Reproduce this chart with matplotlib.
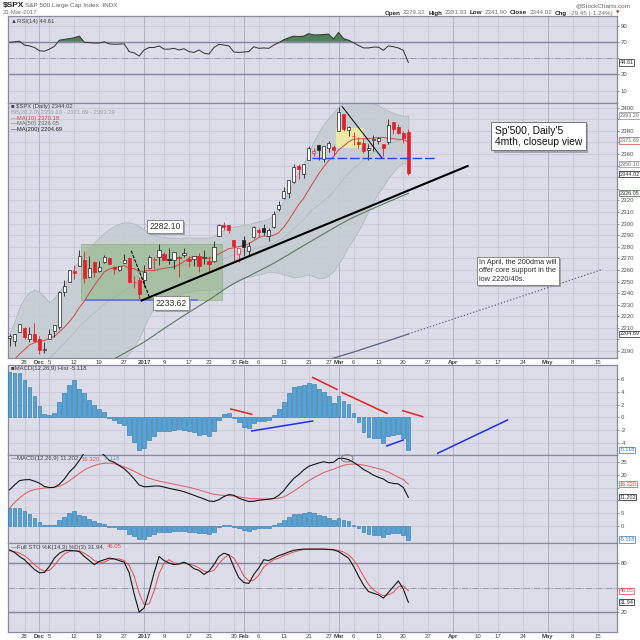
import numpy as np
import pandas as pd
import matplotlib
matplotlib.use('Agg')
import matplotlib.pyplot as plt
from matplotlib.patches import Rectangle, Ellipse
import matplotlib.transforms as mtrans
import matplotlib.patheffects as pe

plt.rcParams['font.family'] = ['Liberation Sans', 'DejaVu Sans']

# ---------------- calendar (trading days) ----------------
holidays = ['2016-11-24', '2016-12-26', '2017-01-02', '2017-01-16', '2017-02-20', '2017-04-14']
calendar = pd.bdate_range('2016-11-22', '2017-05-19', freq='C', holidays=holidays)
origin = list(calendar).index(pd.Timestamp('2016-11-28'))

def pos(d):
    return list(calendar).index(pd.Timestamp(d)) - origin

# ---------------- price data (Nov 22 2016 .. Mar 21 2017) ----------------
prev_close0 = 2198.18
opens = [2201.56, 2198.55, 2206.27,
         2210.21, 2200.76, 2204.97, 2200.17, 2191.12,
         2200.65, 2207.26, 2210.72, 2241.13, 2249.73,
         2258.83, 2263.32, 2268.35, 2253.77, 2266.81,
         2259.24, 2266.50, 2270.54, 2262.93, 2260.25,
         2266.23, 2270.23, 2249.50, 2251.61,
         2251.57, 2261.60, 2268.18, 2271.14,
         2273.59, 2269.72, 2268.60, 2271.14, 2272.74,
         2269.14, 2269.14, 2271.90, 2269.96,
         2267.78, 2267.88, 2288.88, 2298.63, 2299.02,
         2286.01, 2274.02, 2285.59, 2276.69, 2288.54,
         2294.28, 2295.87, 2289.55, 2296.70, 2312.27,
         2321.72, 2326.12, 2335.58, 2349.64, 2343.01,
         2354.91, 2361.11, 2367.50, 2355.73,
         2365.23, 2366.08, 2380.13, 2394.75, 2380.92,
         2375.23, 2370.74, 2369.81, 2363.49, 2372.52,
         2371.56, 2368.55, 2370.34, 2387.71, 2383.71,
         2378.24, 2379.32]
highs = [2204.80, 2204.72, 2213.35,
         2211.14, 2210.46, 2214.10, 2202.60, 2197.95,
         2209.42, 2212.78, 2241.63, 2251.69, 2259.80,
         2264.03, 2277.53, 2276.20, 2272.12, 2268.05,
         2267.47, 2272.56, 2271.23, 2263.18, 2263.79,
         2273.82, 2271.31, 2254.51, 2253.58,
         2263.88, 2272.82, 2271.50, 2282.10,
         2275.49, 2279.27, 2275.32, 2271.78, 2278.68,
         2272.08, 2272.01, 2274.33, 2276.96,
         2271.78, 2284.63, 2299.55, 2300.99, 2299.02,
         2286.01, 2279.09, 2289.14, 2283.97, 2298.31,
         2296.18, 2299.40, 2295.91, 2311.08, 2319.23,
         2331.58, 2337.58, 2351.30, 2351.31, 2351.16,
         2366.71, 2365.13, 2368.26, 2367.34,
         2371.54, 2367.79, 2400.98, 2394.75, 2383.89,
         2378.80, 2375.12, 2373.09, 2369.08, 2376.86,
         2374.42, 2368.55, 2390.01, 2388.10, 2385.71,
         2379.55, 2381.93]
lows = [2194.51, 2194.51, 2206.27,
        2200.36, 2198.15, 2198.81, 2187.44, 2188.37,
        2199.97, 2202.21, 2208.93, 2237.57, 2249.23,
        2252.37, 2263.32, 2248.44, 2253.77, 2254.24,
        2258.21, 2266.14, 2265.15, 2256.08, 2258.84,
        2266.15, 2249.11, 2244.56, 2233.62,
        2245.13, 2261.60, 2260.45, 2264.06,
        2268.90, 2265.27, 2260.83, 2254.25, 2271.51,
        2262.81, 2263.35, 2258.41, 2265.01,
        2257.02, 2266.68, 2288.88, 2294.08, 2291.62,
        2268.04, 2267.21, 2272.44, 2271.65, 2287.88,
        2288.57, 2290.16, 2285.38, 2296.61, 2311.10,
        2321.42, 2322.17, 2334.81, 2338.87, 2339.58,
        2354.91, 2358.34, 2355.09, 2352.87,
        2361.87, 2358.96, 2380.13, 2380.17, 2375.39,
        2367.98, 2365.51, 2361.01, 2354.54, 2363.04,
        2368.52, 2358.18, 2368.94, 2377.18, 2377.64,
        2369.66, 2341.90]
closes = [2202.94, 2204.72, 2213.35,
          2201.72, 2204.66, 2198.81, 2191.08, 2191.95,
          2204.71, 2212.23, 2241.35, 2246.19, 2259.53,
          2256.96, 2271.72, 2253.28, 2262.03, 2258.07,
          2262.53, 2270.76, 2265.18, 2260.96, 2263.79,
          2268.88, 2249.92, 2249.26, 2238.83,
          2257.83, 2270.75, 2269.00, 2276.98,
          2268.90, 2268.90, 2275.32, 2270.44, 2274.64,
          2267.89, 2271.89, 2263.69, 2271.31,
          2265.20, 2280.07, 2298.37, 2296.68, 2294.69,
          2280.90, 2278.87, 2279.55, 2280.85, 2297.42,
          2292.56, 2293.08, 2294.67, 2307.87, 2316.10,
          2328.25, 2337.58, 2349.25, 2347.22, 2351.16,
          2365.38, 2362.82, 2363.81, 2367.34,
          2369.75, 2363.64, 2395.96, 2381.92, 2383.12,
          2375.31, 2368.39, 2362.98, 2364.87, 2372.60,
          2373.47, 2365.45, 2385.26, 2381.38, 2378.25,
          2373.47, 2344.02]

ma10 = [2178.7, 2182.8, 2187.4, 2191.2, 2195.2, 2197.1, 2198.5, 2198.9, 2201.2, 2202.6,
        2206.5, 2210.6, 2215.2, 2220.8, 2227.5, 2232.9, 2240.0, 2246.6, 2252.4, 2258.3,
        2260.6, 2262.1, 2262.5, 2263.7, 2261.5, 2261.1, 2258.8, 2258.8, 2259.6, 2259.4,
        2260.6, 2261.4, 2261.9, 2262.6, 2264.6, 2267.2, 2270.1, 2271.5, 2270.8, 2271.0,
        2269.8, 2270.9, 2273.9, 2276.0, 2278.4, 2279.1, 2280.2, 2280.9, 2282.6, 2285.3,
        2288.0, 2289.3, 2288.9, 2290.0, 2292.2, 2296.9, 2302.8, 2309.8, 2316.4, 2321.8,
        2329.1, 2336.0, 2342.9, 2348.9, 2354.3, 2357.8, 2363.6, 2366.9, 2370.5, 2372.9,
        2373.2, 2373.2, 2373.3, 2373.9, 2374.2, 2374.4, 2373.4, 2373.3, 2372.8, 2372.6,
        2370.18]
bb_mid = [2158.0, 2161.0, 2165.0, 2168.0, 2172.0, 2175.0, 2178.0, 2181.0, 2184.0, 2187.5,
          2192.6, 2196.7, 2201.3, 2206.0, 2211.3, 2215.0, 2219.2, 2222.8, 2226.8, 2230.4,
          2233.6, 2236.4, 2238.9, 2242.2, 2244.5, 2247.0, 2249.4, 2252.7, 2256.0, 2258.9,
          2260.6, 2261.8, 2262.2, 2263.2, 2263.1, 2264.2, 2264.4, 2265.1, 2265.2, 2265.2,
          2265.2, 2266.2, 2267.9, 2269.3, 2271.5, 2273.1, 2275.1, 2276.2, 2276.7, 2278.1,
          2278.9, 2280.1, 2281.4, 2283.0, 2285.3, 2288.0, 2291.5, 2295.3, 2299.5, 2303.5,
          2308.5, 2312.7, 2315.9, 2319.5, 2323.2, 2327.4, 2333.2, 2338.3, 2343.5, 2347.3,
          2351.1, 2354.6, 2358.1, 2361.4, 2364.3, 2366.1, 2368.5, 2370.1, 2371.7, 2372.8,
          2371.69]
bb_upper = [2205, 2216, 2228, 2236, 2241, 2243, 2241, 2237, 2232, 2236,
            2242, 2248, 2255, 2262, 2269, 2274, 2279, 2284, 2288, 2292,
            2295.5, 2298, 2300, 2301, 2301, 2300, 2298, 2295, 2292, 2290,
            2289, 2288.5, 2288, 2288, 2287.5, 2288, 2288, 2288, 2288, 2288,
            2288, 2289, 2292, 2294.5, 2296.5, 2297.5, 2298, 2299, 2299.5, 2301,
            2302, 2303, 2304.5, 2308, 2313, 2320, 2328, 2337, 2345, 2352,
            2361, 2371, 2379, 2386, 2391, 2396, 2401, 2404.5, 2406.5, 2408,
            2408, 2407, 2405.5, 2404, 2402, 2399.5, 2397.5, 2395.5, 2394, 2393,
            2393.29]
bb_lower = [2111, 2106, 2102, 2100, 2103, 2107, 2115, 2125, 2136, 2139,
            2143, 2145.5, 2147.5, 2150, 2153.5, 2156, 2159.5, 2161.5, 2165.5, 2169,
            2171.5, 2175, 2178, 2183.5, 2188, 2194, 2201, 2210.5, 2220, 2227.5,
            2232, 2235, 2236.5, 2238.5, 2238.5, 2240.5, 2241, 2242, 2242.5, 2242.5,
            2242.5, 2243.5, 2244, 2244, 2246.5, 2248.5, 2252, 2253.5, 2254, 2255,
            2256, 2257, 2258.5, 2258, 2257.5, 2256, 2255, 2253.5, 2254, 2255,
            2256, 2254.4, 2252.8, 2253, 2255.4, 2258.8, 2265.5, 2272, 2280.5, 2286.5,
            2294, 2302, 2311, 2319, 2326.5, 2332.5, 2339.5, 2344.5, 2349.5, 2352.5,
            2350.10]
ma50 = [2150.5, 2151.5, 2152.5, 2153.5, 2154.5, 2155.5, 2156.5, 2157.5, 2158.7, 2160.0,
        2161.5, 2163.0, 2164.7, 2166.5, 2168.5, 2170.5, 2172.5, 2174.5, 2176.5, 2178.7,
        2181.0, 2183.3, 2185.6, 2188.0, 2190.4, 2192.8, 2195.2, 2197.8, 2200.6, 2203.5,
        2206.5, 2209.4, 2212.3, 2215.1, 2217.9, 2220.7, 2223.4, 2226.1, 2228.8, 2231.5,
        2234.2, 2237.0, 2240.0, 2242.9, 2245.7, 2248.2, 2250.4, 2252.5, 2254.6, 2256.9,
        2259.1, 2261.3, 2263.5, 2265.8, 2268.2, 2270.8, 2273.3, 2275.9, 2278.5, 2281.0,
        2283.6, 2286.1, 2288.6, 2291.1, 2293.6, 2296.0, 2298.6, 2301.0, 2303.3, 2305.4,
        2307.4, 2309.4, 2311.3, 2313.2, 2315.1, 2316.9, 2318.8, 2320.6, 2322.5, 2324.3,
        2326.05]
ma200 = [2129.0, 2129.6, 2130.2, 2130.8, 2131.4, 2132.0, 2132.6, 2133.2, 2133.8, 2134.4,
         2135.1, 2135.8, 2136.5, 2137.2, 2137.9, 2138.6, 2139.3, 2140.0, 2140.7, 2141.4,
         2142.1, 2142.8, 2143.5, 2144.2, 2144.9, 2145.6, 2146.3, 2147.0, 2147.8, 2148.6,
         2149.4, 2150.2, 2151.0, 2151.8, 2152.6, 2153.4, 2154.2, 2155.0, 2155.8, 2156.6,
         2157.4, 2158.3, 2159.2, 2160.1, 2161.0, 2161.9, 2162.8, 2163.8, 2164.8, 2165.8,
         2166.8, 2167.8, 2168.9, 2170.0, 2171.1, 2172.2, 2173.3, 2174.4, 2175.5, 2176.7,
         2177.9, 2179.1, 2180.3, 2181.5, 2182.7, 2183.9, 2185.2, 2186.5, 2187.8, 2189.1,
         2190.5, 2191.9, 2193.3, 2194.7, 2196.1, 2197.5, 2198.9, 2200.3, 2201.8, 2203.2,
         2204.69]

rsi = [69.5, 70, 70.8, 66, 65, 63, 59, 58.5, 61, 64.5,
       72, 73, 74, 75, 77, 69.5, 69, 68.5, 68.5, 70,
       67.5, 67, 67.2, 67.5, 58, 56.5, 52.5, 60, 63, 63,
       65, 61, 61, 62, 60, 61.5, 58, 57, 60, 56,
       55, 63, 67, 66, 65, 57.5, 57, 57.5, 58, 64,
       62, 62.5, 62, 66, 69, 72.5, 75, 77, 76.5, 77,
       80, 78.5, 78.5, 79, 79.5, 73.5, 81.5, 74, 72, 69,
       65.5, 62.5, 62.5, 63.5, 63.5, 59.5, 65, 64, 62.5, 59.5,
       44.61]
macd_hist = [7.1, 7.0, 7.0, 5.9, 4.8, 3.3, 1.7, 0.5, 0.35, 0.6,
             2.4, 3.75, 5.1, 5.8, 4.5, 3.85, 2.7, 1.9, 1.25, 0.9,
             -0.15, -0.4, -0.95, -1.2, -2.8, -3.8, -5.1, -4.85, -3.6, -3.0,
             -2.1, -2.1, -2.1, -2.0, -1.9, -2.0, -2.15, -2.25, -2.75, -2.6,
             -2.9, -2.1, -0.4, 0.45, 0.7, -0.15, -0.8, -1.45, -1.7, -0.95,
             -0.65, -0.55, -0.5, 0.4, 1.25, 2.45, 3.75, 4.8, 4.95, 5.0,
             5.45, 5.2, 4.5, 4.0, 3.4, 2.3, 3.35, 2.6, 2.1, 0.7,
             -0.8, -2.25, -3.15, -3.2, -3.3, -3.95, -3.0, -2.75, -2.6, -3.2,
             -5.118]
macd_line = [14.1, 16.0, 17.7, 18.0, 18.1, 17.5, 16.7, 15.4, 15.0, 15.1,
             16.3, 18.3, 21.0, 22.9, 25.5, 28.5, 30.0, 30.0, 29.0, 27.5,
             25.5, 24.8, 23.5, 22.3, 20.5, 18.3, 16.0, 15.3, 15.4, 15.6,
             15.6, 15.2, 14.7, 14.3, 13.9, 13.4, 12.7, 12.0, 11.3, 10.6,
             9.8, 9.6, 10.3, 11.5, 12.3, 12.0, 10.9, 10.2, 9.6, 9.7,
             10.1, 10.3, 10.5, 10.8, 12.0, 13.8, 16.3, 18.5, 20.0, 21.8,
             23.2, 23.9, 24.5, 25.0, 24.6, 24.8, 26.3, 26.3, 25.8, 24.8,
             23.5, 22.0, 21.0, 19.8, 19.0, 18.3, 17.0, 16.6, 16.4, 15.0,
             11.202]
macd_signal = [7.0, 9.2, 11.0, 12.5, 13.6, 14.2, 14.6, 14.8, 14.9, 15.1,
               15.5, 16.4, 17.6, 19.0, 20.5, 21.8, 22.8, 23.5, 24.1, 24.4,
               24.5, 24.2, 23.7, 23.0, 22.2, 21.3, 20.3, 19.4, 18.6, 18.0,
               17.5, 17.1, 16.7, 16.3, 15.9, 15.5, 15.1, 14.6, 14.1, 13.5,
               12.9, 12.4, 12.1, 12.0, 11.9, 11.7, 11.4, 11.1, 10.8, 10.7,
               10.6, 10.6, 10.6, 10.7, 10.9, 11.4, 12.4, 13.6, 14.9, 16.3,
               17.6, 18.8, 19.8, 20.8, 21.5, 22.1, 22.9, 23.6, 24.0, 24.1,
               24.0, 23.7, 23.3, 22.8, 22.3, 21.8, 21.0, 20.0, 19.0, 18.1,
               16.32]
sto_k = [96, 93, 88, 84, 78, 72, 68, 68.5, 76, 86,
         92, 95, 95.5, 95, 94, 88, 83, 78, 82, 84,
         86, 85, 83, 81, 68, 42, 20, 25, 45, 68,
         88, 83, 80, 78, 79, 81, 78, 73, 71, 66,
         70, 78, 88, 92, 90, 75, 62, 56, 55, 66,
         74, 84, 83, 86, 89, 91, 93.5, 95.5, 96.5, 97,
         97, 97, 97, 97, 96.5, 96, 94, 90, 86, 76,
         64, 53, 45, 43, 41, 37, 44, 51, 58, 48,
         31.94]
sto_d = [95, 94, 92, 89, 84, 78, 73, 70, 71, 77,
         85, 91, 94, 95, 95, 92, 88, 83, 81, 81,
         84, 85, 85, 83, 77, 64, 43, 29, 30, 46,
         67, 80, 84, 80, 79, 79.5, 79, 77, 74, 70,
         69, 71, 79, 86, 90, 86, 76, 64, 58, 59,
         65, 75, 80, 84, 86, 89, 91, 93.5, 95, 96.5,
         97, 97, 97, 97, 97, 96.5, 95.5, 93.5, 90, 84,
         75, 64, 54, 47, 43, 40, 41, 44, 51, 52,
         46.05]

# x-axis labels
tick_dates = ['2016-11-28', '2016-12-01', '2016-12-05', '2016-12-12', '2016-12-19', '2016-12-27',
              '2017-01-03', '2017-01-09', '2017-01-17', '2017-01-23', '2017-01-30', '2017-02-01',
              '2017-02-06', '2017-02-13', '2017-02-21', '2017-02-27', '2017-03-01', '2017-03-06',
              '2017-03-13', '2017-03-20', '2017-03-27', '2017-04-03', '2017-04-10', '2017-04-17',
              '2017-04-24', '2017-05-01', '2017-05-08', '2017-05-15']
tick_text = ['28', 'Dec', '5', '12', '19', '27', '2017', '9', '17', '23', '30', 'Feb', '6', '13',
             '21', '27', 'Mar', '6', '13', '20', '27', 'Apr', '10', '17', '24', 'May', '8', '15']
month_labels = ['Dec', '2017', 'Feb', 'Mar', 'Apr', 'May']

# drawn annotations (chart author's lines), in (date-index, value)
green_box = (11.3, 39.6, 2233.62, 2282.10)
yellow_box = (62.5, 68.0, 2365.0, 2382.2)
trend_line = [(23.5, 2233.6), (88.9, 2349.7)]
dec_drop_line = [(21.4, 2276.6), (25.2, 2234.9)]
mar_drop_line = [(63.75, 2400.9), (71.7, 2356.8)]
support_blue = (12.3, 34.6, 2233.62)
mar_support_blue = (57.6, 82.8, 2356.8)
ma200_projection = [(77, 2204.69), (116, 2260.5)]
hist_red_lines = [[(41.4, 1.3), (45.6, 0.47)], [(57.8, 6.25), (62.7, 4.37)],
                  [(63.7, 3.9), (72.7, 0.62)], [(75.9, 1.03), (79.9, 0.1)]]
hist_blue_lines = [[(45.6, -2.14), (57.8, -0.58)], [(72.7, -4.48), (76.0, -3.55)],
                   [(82.9, -5.63), (96.9, -0.42)]]

# ---------------- figure ----------------
W_PX = 640.0
fig = plt.figure(figsize=(6.4, 6.4), dpi=100)
fig.patch.set_facecolor('white')

BG = '#dcdce9'
GRID = '#c5c5d6'
MONTH_GRID = '#a9a9bd'
FRAME = '#8a8a9e'
L_PX, R_PX = 8, 617
XL = ((L_PX - 24.5) / 4.985, (R_PX - 24.5) / 4.985)

dates = calendar[(calendar >= '2016-11-22') & (calendar <= '2017-03-21')]
x = np.array([pos(d) for d in dates])
tick_pos = [pos(d) for d in tick_dates]


def mk(top, bot, ylim, yticks, hide=()):
    ax = fig.add_axes([L_PX / W_PX, 1 - bot / W_PX, (R_PX - L_PX) / W_PX, (bot - top) / W_PX])
    ax.set_facecolor(BG)
    ax.set_xlim(*XL)
    ax.set_ylim(*ylim)
    for sp in ax.spines.values():
        sp.set_color(FRAME)
        sp.set_linewidth(0.9)
    ax.yaxis.tick_right()
    ax.set_yticks(yticks)
    ax.set_yticklabels(['' if v in hide else f'{v:g}' for v in yticks])
    ax.tick_params(axis='y', labelsize=4.3, length=1.5, pad=1, colors='#505050', width=0.5)
    ax.set_xticks(tick_pos)
    ax.tick_params(axis='x', length=0, labelbottom=False)
    ax.set_axisbelow(True)
    for yv in yticks:
        ax.axhline(yv, color=GRID, lw=0.5, zorder=0)
    for p, t in zip(tick_pos, tick_text):
        ax.axvline(p, color=MONTH_GRID if t in month_labels else GRID, lw=0.6, zorder=0)
    return ax


def date_labels(ax):
    ax.tick_params(axis='x', labelbottom=True, labelsize=4.3, pad=1.5, colors='#404040')
    ax.set_xticklabels(tick_text)
    for lab in ax.get_xticklabels():
        if lab.get_text() in month_labels:
            lab.set_fontweight('bold')


def box_label(ax, val, text, ec, tc='#303030', at=None):
    tr = mtrans.blended_transform_factory(ax.transAxes, ax.transData)
    ax.text(1.004, val if at is None else at, text, transform=tr, fontsize=4.0, color=tc, va='center',
            ha='left', bbox=dict(boxstyle='square,pad=0.1', fc='white', ec=ec, lw=0.6), clip_on=False,
            zorder=10)


def ft(xp, yp, s, **kw):
    return fig.text(xp / W_PX, 1 - yp / W_PX, s, **kw)


def note(ax, xv, yv, s, fs, ha, va, ls, pad, tc, ec):
    t = ax.text(xv, yv, s, fontsize=fs, ha=ha, va=va, color=tc, linespacing=ls,
                bbox=dict(boxstyle=f'square,pad={pad}', fc='white', ec=ec, lw=0.75), zorder=8)
    t.get_bbox_patch().set_path_effects([
        pe.SimplePatchShadow(offset=(1.6, -1.6), shadow_rgbFace='#8e8e9c', alpha=0.7), pe.Normal()])
    return t

# ---------------- header ----------------
ft(3, 5.5, '$SPX', fontsize=6, fontweight='bold', va='center', color='#202020')
ft(25, 5.5, 'S&P 500 Large Cap Index  INDX', fontsize=4.6, va='center', color='#606060')
ft(3, 12.5, '21-Mar-2017', fontsize=4.3, va='center', color='#707070')
ft(630, 5.5, '@StockCharts.com', fontsize=4.6, va='center', ha='right', color='#606060')
renderer = fig.canvas.get_renderer()
pieces = [('Open', True, '#202020'), ('2379.32', False, '#707070'), ('High', True, '#202020'),
          ('2381.93', False, '#707070'), ('Low', True, '#202020'), ('2341.90', False, '#707070'),
          ('Close', True, '#202020'), ('2344.02', False, '#707070'), ('Chg', True, '#202020'),
          ('-29.45 (-1.24%)', False, '#707070'), ('\u25bc', False, '#d02020')]
xr = 619.0
for s, bold, c in reversed(pieces):
    t = ft(xr, 13, s, fontsize=4.5 if s != '\u25bc' else 3.2, fontweight='bold' if bold else 'normal',
           ha='right', va='center', color=c, family=['DejaVu Sans'] if s == '\u25bc' else None)
    bb = t.get_window_extent(renderer)
    xr -= bb.width + 2.5

# ---------------- RSI panel ----------------
ax_rsi = mk(16, 103, (-5.1, 101.7), [10, 30, 50, 70, 90], hide=(50,))
ax_rsi.axhline(70, color='#8585a0', lw=1.0)
ax_rsi.axhline(30, color='#8585a0', lw=1.0)
ax_rsi.axhline(50, color='#9a9ab0', lw=0.7, ls='-.')
r = np.array(rsi)
ax_rsi.fill_between(x, r, 70, where=r > 70, interpolate=True, color='#52805a', lw=0)
ax_rsi.plot(x, r, color='#303030', lw=0.7)
box_label(ax_rsi, 44.61, '44.61', '#404040')
ft(11, 21.5, '\u25b2RSI(14) 44.61', fontsize=4.3, va='center', color='#404040',
   family=['Liberation Sans', 'DejaVu Sans'])

# ---------------- price panel ----------------
ax = mk(103, 358, (2183.96, 2404.1), list(range(2190, 2401, 10)),
        hide=(2390, 2370, 2350, 2340, 2330, 2200))
ax.fill_between(x, bb_lower, bb_upper, color='#c4ccd1', alpha=0.9, lw=0.5, edgecolor='#a9b2b9', zorder=1)
ax.plot(x, bb_mid, color='#b3b9c4', lw=0.6, zorder=2)
ax.add_patch(Rectangle((green_box[0], green_box[2]), green_box[1] - green_box[0], green_box[3] - green_box[2],
                       fc='#8fb47d', alpha=0.55, ec='#7a9e6a', lw=0.6, zorder=2))
ax.add_patch(Rectangle((yellow_box[0], yellow_box[2]), yellow_box[1] - yellow_box[0], yellow_box[3] - yellow_box[2],
                       fc='#f4f19a', alpha=0.8, ec='none', zorder=2))
ax.plot(x, ma200, color='#56657f', lw=0.9, zorder=3)
ax.plot(*zip(*ma200_projection), color='#56657f', lw=0.9, ls=(0, (1, 1.6)), zorder=3)
ax.plot(x, ma50, color='#5b7b5b', lw=0.8, zorder=3)
ax.plot(x, ma10, color='#d24848', lw=0.7, zorder=3)

prev = prev_close0
for xi, o, h, l, c in zip(x, opens, highs, lows, closes):
    col = '#e0202c' if c < prev else '#202020'
    ax.vlines(xi, l, h, color=col, lw=0.6, zorder=4)
    fc = col if c < o else 'white'
    ax.add_patch(Rectangle((xi - 0.32, min(o, c)), 0.64, max(abs(c - o), 0.25),
                           fc=fc, ec=col, lw=0.5, zorder=5))
    prev = c

ax.plot([support_blue[0], support_blue[1]], [support_blue[2]] * 2, color='#5b78e8', lw=1.3, zorder=6)
ax.plot([mar_support_blue[0], mar_support_blue[1]], [mar_support_blue[2]] * 2, color='#2a45f0', lw=1.0,
        ls=(0, (7, 2)), zorder=6)
ax.plot(*zip(*trend_line), color='black', lw=1.5, zorder=6)
ax.plot(*zip(*dec_drop_line), color='black', lw=0.8, ls=(0, (3, 1.2)), zorder=6)
ax.plot(*zip(*mar_drop_line), color='black', lw=0.7, zorder=6)

note(ax, 28.2, 2297.4, '2282.10', 6.2, 'center', 'center', 1.2, 0.25, '#303030', '#8a8a8a')
note(ax, 29.4, 2231.4, '2233.62', 6.2, 'center', 'center', 1.2, 0.25, '#303030', '#8a8a8a')
note(ax, 94.4, 2384.6, "Sp'500, Daily'5\n4mth, closeup view", 7.4, 'left', 'top', 1.15, 0.35,
     '#101010', '#7a7a7a')
note(ax, 91.2, 2269.6, "In April, the 200dma will\noffer core support in the\nlow 2220/40s.", 5.3,
     'left', 'top', 1.3, 0.3, '#303030', '#8a8a8a')

box_label(ax, 2393.29, '2393.29', '#9a9a9a', '#707070')
box_label(ax, 2371.69, '2371.69', '#d86060', '#707070')
box_label(ax, 2350.10, '2350.10', '#9a9a9a', '#707070', at=2351.4)
box_label(ax, 2344.02, '2344.02', '#303030', at=2342.7)
box_label(ax, 2326.05, '2326.05', '#5b7b5b')
box_label(ax, 2204.69, '2204.69', '#404040')
date_labels(ax)

legend_rows = [('\u25a0 $SPX (Daily) 2344.02', '#404040'),
               ('BB(20,2.0) 2350.10 - 2371.69 - 2393.29', '#9a9a9a'),
               ('\u2014MA(10) 2370.18', '#d24848'),
               ('\u2014MA(50) 2326.05', '#5b6b5b'),
               ('\u2014MA(200) 2204.69', '#202020')]
for k, (s, c) in enumerate(legend_rows):
    ft(11, 106.5 + k * 5.8, s, fontsize=4.2, va='center', color=c, family=['Liberation Sans', 'DejaVu Sans'])

# ---------------- MACD histogram panel ----------------
ax_h = mk(365, 454.5, (-5.83, 8.2), [-4, -2, 0, 2, 4, 6])
ax_h.bar(x, macd_hist, width=0.78, color='#55a3d4', edgecolor='#2f74a6', lw=0.4, zorder=3)
for seg in hist_red_lines:
    ax_h.plot(*zip(*seg), color='#e52020', lw=1.1, zorder=5)
for seg in hist_blue_lines:
    ax_h.plot(*zip(*seg), color='#2030e6', lw=1.1, zorder=5)
box_label(ax_h, -5.118, '-5.118', '#5a8ab8', '#5070a0')
ft(11, 368.5, '\u25a0MACD(12,26,9) Hist -5.118', fontsize=4.3, va='center', color='#404040',
   family=['Liberation Sans', 'DejaVu Sans'])

# ---------------- MACD panel ----------------
ax_m = mk(454.5, 543, (-6.46, 27.8), [0, 5, 10, 15, 20, 25], hide=(10, 15))
ax_m.bar(x, macd_hist, width=0.78, color='#55a3d4', edgecolor='#2f74a6', lw=0.4, zorder=3)
ax_m.plot(x, macd_signal, color='#e05a5a', lw=0.7, zorder=4)
ax_m.plot(x, macd_line, color='#151515', lw=0.8, zorder=5)
ax_m.add_patch(Ellipse((64.7, 26.3), 2.4, 2.8, fc='none', ec='#707070', lw=0.6, zorder=6))
box_label(ax_m, 16.32, '16.320', '#e06060', '#d04040')
box_label(ax_m, 11.202, '11.202', '#303030')
box_label(ax_m, -5.118, '-5.118', '#5a8ab8', '#5070a0')
t0 = ft(11, 458.5, '\u2014MACD(12,26,9) 11.202,', fontsize=4.3, va='center', color='#404040')
bb = t0.get_window_extent(renderer)
t1 = ft(11 + bb.width + 2, 458.5, '16.320,', fontsize=4.3, va='center', color='#e05050')
bb1 = t1.get_window_extent(renderer)
ft(11 + bb.width + bb1.width + 4, 458.5, '-5.118', fontsize=4.3, va='center', color='#6a9ac8')

# ---------------- Stochastic panel ----------------
ax_s = mk(543, 632, (-4.5, 104.5), [20, 50, 80], hide=(50,))
ax_s.axhline(80, color='#8585a0', lw=1.0)
ax_s.axhline(20, color='#8585a0', lw=1.0)
ax_s.axhline(50, color='#9a9ab0', lw=0.7, ls='-.')
ax_s.plot(x, sto_d, color='#e05050', lw=0.7, zorder=4)
ax_s.plot(x, sto_k, color='#151515', lw=0.8, zorder=5)
box_label(ax_s, 46.05, '46.05', '#e06060', '#d04040')
box_label(ax_s, 31.94, '31.94', '#303030')
t0 = ft(11, 547, '\u2014Full STO %K(14,3) %D(3) 31.94,', fontsize=4.3, va='center', color='#404040')
bb = t0.get_window_extent(renderer)
ft(11 + bb.width + 2, 547, '46.05', fontsize=4.3, va='center', color='#e05050')
date_labels(ax_s)

fig.savefig('out.png', dpi=100)
